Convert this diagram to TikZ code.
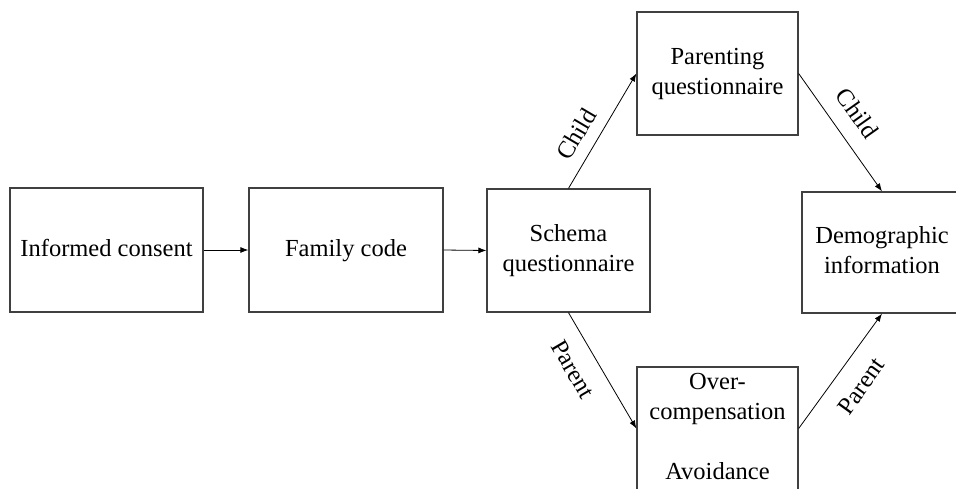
\documentclass[tikz,border=0pt]{standalone}
\usepackage{fontspec}
\setmainfont{Liberation Serif}
\usetikzlibrary{arrows.meta}
\begin{document}
\begin{tikzpicture}[x=1pt,y=-1pt,
  box/.style={draw=black!75, line width=1.3pt, inner sep=0pt, align=center,
    font=\fontsize{24.5}{30}\selectfont},
  arr/.style={-{Latex[length=8pt,width=6pt]}, line width=0.8pt, draw=black},
  lbl/.style={font=\fontsize{24.5}{30}\selectfont, sloped, inner sep=0pt}]
\useasboundingbox (0,0) rectangle (956,488);
\clip (0,0) rectangle (956,488);
\fill[white] (0,0) rectangle (956,488);
\node[box, minimum width=193pt, minimum height=124pt] (ic) at (106.5,250) {\strut Informed consent};
\node[box, minimum width=194pt, minimum height=124pt] (fc) at (346,250) {\strut Family code};
\node[box, minimum width=163pt, minimum height=123pt] (sq) at (568.5,250.5) {\strut Schema\\\strut questionnaire};
\node[box, minimum width=161pt, minimum height=123pt] (pq) at (717.5,73.5) {\strut Parenting\\\strut questionnaire};
\node[box, minimum width=160pt, minimum height=121pt] (di) at (882,252.5) {\strut Demographic\\\strut information};
\node[box, minimum width=161pt, minimum height=123pt] (oa) at (717.5,428.5) {\strut Over-\\\strut compensation\\[30pt]\strut Avoidance};
\draw[arr] (ic.east) -- (fc.west);
\draw[arr] (fc.east) -- (sq.west);
\draw[arr] (sq.north) -- node[lbl, pos=0.38, above=12pt] {Child} (pq.west);
\draw[arr] (pq.east) -- node[lbl, pos=0.46, above=16pt] {Child} (di.north);
\draw[arr] (sq.south) -- node[lbl, pos=0.38, below=16pt] {Parent} (oa.west);
\draw[arr] (oa.east) -- node[lbl, pos=0.5, below=17pt] {Parent} (di.south);
\end{tikzpicture}
\end{document}
